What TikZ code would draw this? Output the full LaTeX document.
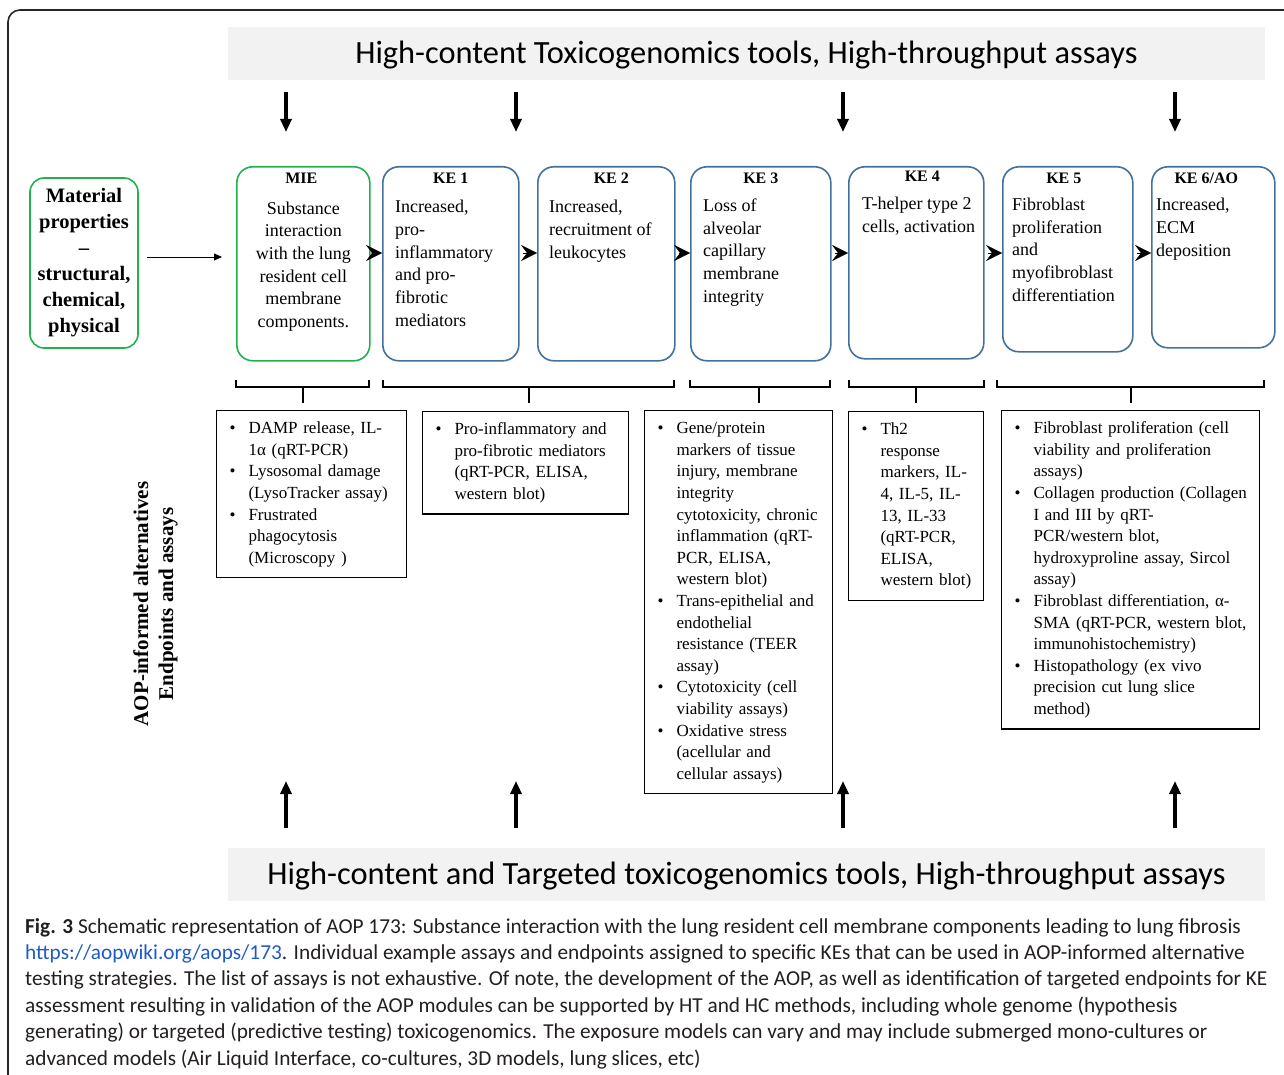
\documentclass[tikz,border=0pt]{standalone}
\usepackage{fontspec}
\setmainfont{Liberation Serif}
\newfontfamily\calibri{Carlito}
\usetikzlibrary{arrows.meta,positioning,calc}
\definecolor{aopgreen}{RGB}{34,177,76}
\definecolor{aopblue}{RGB}{65,113,156}
\definecolor{bannergray}{RGB}{242,242,242}
\definecolor{capgray}{RGB}{35,31,32}
\definecolor{linkblue}{RGB}{30,90,200}

\begin{document}
\begin{tikzpicture}[x=1pt,y=-1pt]
\tikzstyle{banner}=[fill=bannergray,minimum width=1037pt,minimum height=53pt,inner sep=0pt,text height=23pt,text depth=3pt,font=\calibri\fontsize{32.4}{38}\selectfont]
\tikzstyle{kebox}=[draw=aopblue,line width=1.6pt,rounded corners=16pt,anchor=north west,inner sep=0pt]
\tikzstyle{miebox}=[kebox,draw=aopgreen]
\tikzstyle{ketitle}=[inner sep=0pt,font=\bfseries\fontsize{16}{19}\selectfont]
\tikzstyle{ketext}=[inner sep=0pt,align=left,font=\fontsize{18}{22.7}\selectfont]
\tikzstyle{assay}=[draw,line width=1.1pt,anchor=north west,align=left,inner xsep=10pt,inner ysep=8pt,font=\fontsize{17}{21.6}\selectfont]
\tikzstyle{chev}=[-{Stealth[length=16pt,width=16pt,inset=6pt]},line width=0.4pt,shorten <=3pt]
\tikzstyle{tool}=[-{Triangle[length=13pt,width=11pt]},line width=3.2pt]
\tikzstyle{bracket}=[line width=2.6pt]
\useasboundingbox (0,0) rectangle (1284,1075);
\draw[line width=1.6pt,rounded corners=12pt,draw=black!85] (8,10) rectangle (1300,1100);

\node[banner] (toptools) at (746.5,53.5) {High-content Toxicogenomics tools, High-throughput assays};
\node[banner] (bottools) at (746.5,874) {High-content and Targeted toxicogenomics tools, High-throughput assays};

\node[draw=aopgreen,line width=1.6pt,rounded corners=14pt,minimum width=108pt,minimum height=170pt,inner sep=0pt,align=center,font=\bfseries\fontsize{20.5}{26}\selectfont] (material) at (84,263) {Material\\properties\\–\\structural,\\chemical,\\physical};

\node[miebox,minimum width=133pt,minimum height=194pt] (mie) at (236,166) {};
\node[kebox,minimum width=136pt,minimum height=194pt] (ke1) at (382,166) {};
\node[kebox,minimum width=137pt,minimum height=194pt] (ke2) at (537,166) {};
\node[kebox,minimum width=140pt,minimum height=194pt] (ke3) at (690,166) {};
\node[kebox,minimum width=135pt,minimum height=192pt] (ke4) at (848,166) {};
\node[kebox,minimum width=130pt,minimum height=185pt] (ke5) at (1002,166) {};
\node[kebox,minimum width=123pt,minimum height=181pt] (ke6) at (1151,166) {};

\node[ketitle,below=6.5pt of mie.north,xshift=-2pt] (mietitle) {MIE};
\node[ketitle,below=6.5pt of ke1.north] (ke1title) {KE 1};
\node[ketitle,below=6.5pt of ke2.north,xshift=5pt] (ke2title) {KE 2};
\node[ketitle,below=6.5pt of ke3.north] (ke3title) {KE 3};
\node[ketitle,below=5pt of ke4.north,xshift=6pt] (ke4title) {KE 4};
\node[ketitle,below=6.5pt of ke5.north,xshift=-4pt] (ke5title) {KE 5};
\node[ketitle,below=6.5pt of ke6.north,xshift=-7pt] (ke6title) {KE 6/AO};

\node[ketext,align=center,below=35.5pt of mie.north] (mietext) {Substance\\interaction\\with the lung\\resident cell\\membrane\\components.};
\node[ketext,below right=34pt and 13pt of ke1.north west] (ke1text) {Increased,\\pro-\\inflammatory\\and pro-\\fibrotic\\mediators};
\node[ketext,below right=34pt and 12pt of ke2.north west] (ke2text) {Increased,\\recruitment of\\leukocytes};
\node[ketext,below right=32.7pt and 13pt of ke3.north west] (ke3text) {Loss of\\alveolar\\capillary\\membrane\\integrity};
\node[ketext,below right=30.7pt and 14pt of ke4.north west] (ke4text) {T-helper type 2\\cells, activation};
\node[ketext,below right=31.7pt and 10pt of ke5.north west] (ke5text) {Fibroblast\\proliferation\\and\\myofibroblast\\differentiation};
\node[ketext,below right=32pt and 5pt of ke6.north west] (ke6text) {Increased,\\ECM\\deposition};

\coordinate (materialrow) at (0,257);
\coordinate (chevrow) at (0,253);
\draw[-{Triangle[length=8pt,width=7pt]},line width=0.8pt,shorten <=8pt,shorten >=14pt] (material.east |- materialrow) -- (mie.west |- materialrow);
\foreach \a/\b in {mie/ke1,ke1/ke2,ke2/ke3,ke3/ke4,ke4/ke5,ke5/ke6}
	\draw[chev] (\a.east |- chevrow) -- (\b.west |- chevrow);

\foreach \i/\x in {1/286,2/516,3/843,4/1175} {
	\coordinate (down\i) at (\x,92);
	\coordinate (downtip\i) at (\x,132);
	\coordinate (up\i) at (\x,828);
	\coordinate (uptip\i) at (\x,781);
	\draw[tool] (down\i) -- (downtip\i);
	\draw[tool] (up\i) -- (uptip\i);
}

\foreach \l/\r/\m in {236/369/303,383/674/529,690/830/759,849/984/916,997/1264/1131} {
	\draw[bracket] (\l,380) -- (\l,387) -- (\r,387) -- (\r,380);
	\draw[bracket] (\m,387) -- (\m,403);
}

\node[assay,text width=170pt] (assaymie) at (216,410) {\begin{tabular}{@{\hspace{3pt}}p{19pt}@{}l@{}}
\textbullet & DAMP release, IL-\\
 & 1α (qRT-PCR)\\
\textbullet & Lysosomal damage\\
 & (LysoTracker assay)\\
\textbullet & Frustrated\\
 & phagocytosis\\
 & (Microscopy )
\end{tabular}};
\node[assay,text width=186pt] (assayke12) at (422,411) {\begin{tabular}{@{\hspace{3pt}}p{19pt}@{}l@{}}
\textbullet & Pro-inflammatory and\\
 & pro-fibrotic mediators\\
 & (qRT-PCR, ELISA,\\
 & western blot)
\end{tabular}};
\node[assay,text width=168pt] (assayke3) at (644,410) {\begin{tabular}{@{\hspace{3pt}}p{19pt}@{}l@{}}
\textbullet & Gene/protein\\
 & markers of tissue\\
 & injury, membrane\\
 & integrity\\
 & cytotoxicity, chronic\\
 & inflammation (qRT-\\
 & PCR, ELISA,\\
 & western blot)\\
\textbullet & Trans-epithelial and\\
 & endothelial\\
 & resistance (TEER\\
 & assay)\\
\textbullet & Cytotoxicity (cell\\
 & viability assays)\\
\textbullet & Oxidative stress\\
 & (acellular and\\
 & cellular assays)
\end{tabular}};
\node[assay,text width=115pt] (assayke4) at (848,411) {\begin{tabular}{@{\hspace{3pt}}p{19pt}@{}l@{}}
\textbullet & Th2\\
 & response\\
 & markers, IL-\\
 & 4, IL-5, IL-\\
 & 13, IL-33\\
 & (qRT-PCR,\\
 & ELISA,\\
 & western blot)
\end{tabular}};
\node[assay,text width=238pt] (assayke56) at (1001,410) {\begin{tabular}{@{\hspace{3pt}}p{19pt}@{}l@{}}
\textbullet & Fibroblast proliferation (cell\\
 & viability and proliferation\\
 & assays)\\
\textbullet & Collagen production (Collagen\\
 & I and III by qRT-\\
 & PCR/western blot,\\
 & hydroxyproline assay, Sircol\\
 & assay)\\
\textbullet & Fibroblast differentiation, α-\\
 & SMA (qRT-PCR, western blot,\\
 & immunohistochemistry)\\
\textbullet & Histopathology (ex vivo\\
 & precision cut lung slice\\
 & method)
\end{tabular}};

\node[rotate=90,align=center,inner sep=0pt,font=\bfseries\fontsize{21}{25}\selectfont] (sidelabel) at (155.5,604) {AOP-informed alternatives\\Endpoints and assays};

\node[anchor=north west,inner sep=0pt,align=left,text=capgray,font=\calibri\fontsize{21.3}{26.4}\selectfont] (caption) at (25,918) {\textbf{Fig. 3} Schematic representation of AOP 173: Substance interaction with the lung resident cell membrane components leading to lung fibrosis\\
\textcolor{linkblue}{https://aopwiki.org/aops/173}. Individual example assays and endpoints assigned to specific KEs that can be used in AOP-informed alternative\\
testing strategies. The list of assays is not exhaustive. Of note, the development of the AOP, as well as identification of targeted endpoints for KE\\
assessment resulting in validation of the AOP modules can be supported by HT and HC methods, including whole genome (hypothesis\\
generating) or targeted (predictive testing) toxicogenomics. The exposure models can vary and may include submerged mono-cultures or\\
advanced models (Air Liquid Interface, co-cultures, 3D models, lung slices, etc)};
\end{tikzpicture}
\end{document}
